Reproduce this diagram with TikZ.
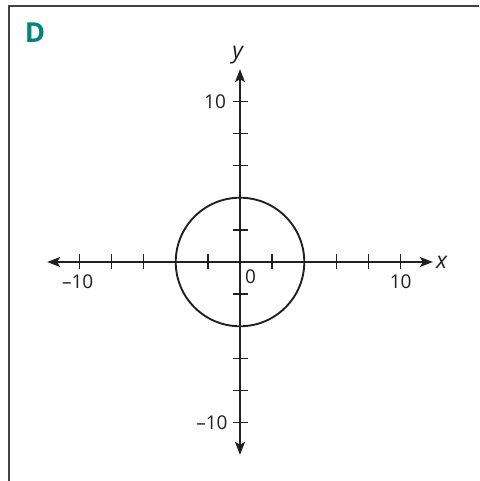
\documentclass[tikz,border=0pt]{standalone}
\usepackage{fontspec}
\setmainfont{Open Sans}
\usetikzlibrary{arrows.meta}
\definecolor{teal2}{HTML}{00857C}
\definecolor{ink}{HTML}{231F20}
\begin{document}
\begin{tikzpicture}[x=1pt,y=1pt,
  tip/.tip={Stealth[length=13pt,width=10pt,inset=3pt]},
  axis/.style={line width=1.8pt,color=ink,tip-tip},
  tickmark/.style={line width=1.5pt,color=ink},
  lbl/.style={font=\fontsize{19}{19}\selectfont,text=ink,inner sep=0pt},
  axlbl/.style={font=\fontsize{23}{23}\selectfont\itshape,text=ink,inner sep=0pt}]
\fill[white] (0,0) rectangle (479,481);
\useasboundingbox (0,0) rectangle (479,481);
% frame
\draw[line width=2pt,color=ink!85] (9,0) -- (9,475) -- (479,475);
\node[font=\fontsize{27.5}{27.5}\selectfont\bfseries,text=teal2,inner sep=0pt] (D) at (35,448) {D};
% origin at pixel (240,262) -> (240,219)
\begin{scope}[shift={(240,219)},x=16.07pt,y=16.07pt]
\coordinate (O) at (0,0);
\coordinate (xl) at (-12,0);
\coordinate (xr) at (12,0);
\coordinate (yb) at (0,-12);
\coordinate (yt) at (0,12);
\draw[axis] (xl) -- (xr);
\draw[axis] (yb) -- (yt);
\foreach \t in {-10,-8,-6,-4,-2,2,4,6,8,10}{
  \draw[tickmark] (\t,0) ++(0,-7.5pt) -- ++(0,15pt);
  \draw[tickmark] (0,\t) ++(-7.5pt,0) -- ++(15pt,0);
}
\draw[line width=1.9pt,color=ink] (O) circle[radius=4];
\node[axlbl] (xlab) at (12.55,0) {x};
\node[axlbl] (ylab) at (-0.15,12.9) {y};
\node[lbl] (xm10) at (-10.1,-1.25) {–10};
\node[lbl] (xp10) at (10,-1.25) {10};
\node[lbl] (zero) at (0.65,-0.9) {0};
\node[lbl] (yp10) at (-1.55,10) {10};
\node[lbl] (ym10) at (-1.75,-10) {–10};
\end{scope}
\end{tikzpicture}
\end{document}
